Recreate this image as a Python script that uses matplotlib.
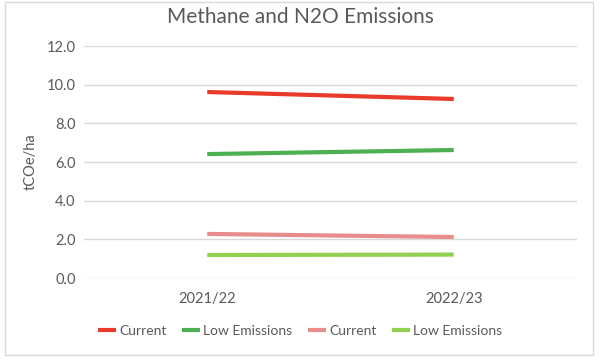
import matplotlib
matplotlib.use("Agg")
import matplotlib.pyplot as plt
from matplotlib.patches import Rectangle

categories = ["2021/22", "2022/23"]
series_names = ["Current", "Low Emissions", "Current", "Low Emissions"]
methane_current = [9.62, 9.26]
methane_low = [6.41, 6.62]
n2o_current = [2.28, 2.12]
n2o_low = [1.19, 1.21]
colors = ["#E8392A", "#4CAF50", "#E88C8C", "#92D050"]
yticks = [0, 2, 4, 6, 8, 10, 12]

plt.rcParams['font.family'] = ['Lato', 'DejaVu Sans']

fig = plt.figure(figsize=(6.0, 3.61), dpi=100)
ax = fig.add_axes([84/600, 1-278/361, 493/600, 232/361])

x = [0, 1]
for vals, c, n in zip([methane_current, methane_low, n2o_current, n2o_low], colors, series_names):
    ax.plot(x, vals, color=c, lw=3.0, label=n, solid_capstyle='butt')

ax.set_xlim(-0.5, 1.5)
ax.set_ylim(0, 12)
ax.set_yticks(yticks)
ax.set_yticklabels([f"{v:.1f}" for v in yticks])
ax.set_xticks(x)
ax.set_xticklabels(categories)
ax.grid(axis='y', color='#D9D9D9', lw=1)
ax.set_axisbelow(True)
for s in ax.spines.values():
    s.set_visible(False)
ax.tick_params(length=0, colors='#595959', labelsize=10.5)
ax.tick_params(axis='y', pad=6)
ax.tick_params(axis='x', pad=10)
ax.set_ylabel("tCOe/ha", color='#595959', fontsize=10.5)
ax.yaxis.set_label_coords(-0.093, 0.5)
fig.text(0.5, 1-17/361, "Methane and N2O Emissions", ha='center', va='center',
         fontsize=15, color='#595959')
leg = fig.legend(loc='center', bbox_to_anchor=(0.5, 1-331/361), ncol=4, frameon=False,
                 fontsize=10, handlelength=1.3, handletextpad=0.25, columnspacing=1.1)
for t in leg.get_texts():
    t.set_color('#595959')
fig.patches.append(Rectangle((5/600, 1-355/361), 588/600, 353/361, transform=fig.transFigure,
                             fill=False, edgecolor='#D9D9D9', lw=1))
fig.savefig("out.png", dpi=100)
